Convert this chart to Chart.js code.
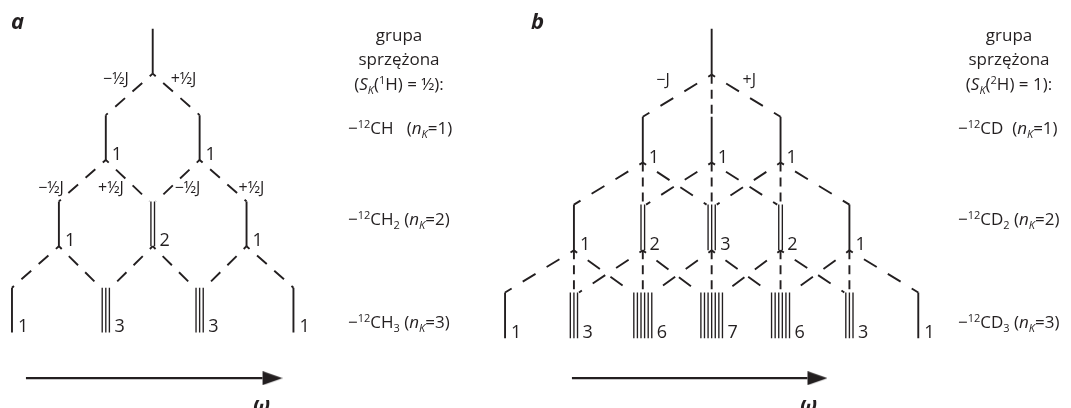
<!DOCTYPE html>
<html>
<head>
<meta charset="utf-8">
<script src="https://cdn.jsdelivr.net/npm/chart.js@4.4.1/dist/chart.umd.min.js"></script>
<style>
  html, body { margin: 0; padding: 0; background: #fff; overflow: hidden; }
  canvas { display: block; }
</style>
</head>
<body>
<canvas id="tree" width="1071" height="408"></canvas>
<script>
// ---- data -------------------------------------------------------------
// line intensities of each splitting level (level 0 = uncoupled line)
const intensitiesCH = [[1], [1, 1], [1, 2, 1], [1, 3, 3, 1]];
const intensitiesCD = [[1], [1, 1, 1], [1, 2, 3, 2, 1], [1, 3, 6, 7, 6, 3, 1]];
// shift of each spin state of one coupled nucleus, in units of J
const splitsCH = [-0.5, 0.5];
const splitsCD = [-1, 0, 1];
// texts written on the branches
const splitTextCH = ['−½J', '+½J'];
const splitTextCD = ['−J', '', '+J'];
// coupled-group captions ([text, style] parts)
const headerCH = [
  [['grupa']],
  [['sprzężona']],
  [['('], ['S', 'it'], ['K', 'itsub'], ['('], ['1', 'sup'], ['H) = ½):']]
];
const headerCD = [
  [['grupa']],
  [['sprzężona']],
  [['('], ['S', 'it'], ['K', 'itsub'], ['('], ['2', 'sup'], ['H) = 1):']]
];
const rowsCH = [
  [['−'], ['12', 'sup'], ['CH   ('], ['n', 'it'], ['K', 'itsub'], ['=1)']],
  [['−'], ['12', 'sup'], ['CH'], ['2', 'sub'], [' ('], ['n', 'it'], ['K', 'itsub'], ['=2)']],
  [['−'], ['12', 'sup'], ['CH'], ['3', 'sub'], [' ('], ['n', 'it'], ['K', 'itsub'], ['=3)']]
];
const rowsCD = [
  [['−'], ['12', 'sup'], ['CD  ('], ['n', 'it'], ['K', 'itsub'], ['=1)']],
  [['−'], ['12', 'sup'], ['CD'], ['2', 'sub'], [' ('], ['n', 'it'], ['K', 'itsub'], ['=2)']],
  [['−'], ['12', 'sup'], ['CD'], ['3', 'sub'], [' ('], ['n', 'it'], ['K', 'itsub'], ['=3)']]
];

// ---- layout -----------------------------------------------------------
const INK = '#231f20';
const FONT = '"Open Sans", "Noto Sans", sans-serif';

const panels = [
  {
    letter: 'a', letterX: 11,
    intens: intensitiesCH, splits: splitsCH, splitText: splitTextCH,
    cx: 152, J: 94, y0: 28, step: 86.7, stem: 45, gap: 3.6,
    diagDash: [13, 10], diagOffset: 9,
    // branch captions: level, node, split, dx, dy from the junction, alignment
    splitLabels: [
      { k: 0, i: 0, s: 0, dx: -24, dy: 10, align: 'right' },
      { k: 0, i: 0, s: 1, dx: 18, dy: 10, align: 'left' },
      { k: 1, i: 0, s: 0, dx: -42, dy: 33, align: 'right' },
      { k: 1, i: 0, s: 1, dx: 18, dy: 33, align: 'right' },
      { k: 1, i: 1, s: 0, dx: -25, dy: 33, align: 'left' },
      { k: 1, i: 1, s: 1, dx: 39, dy: 33, align: 'left' }
    ],
    header: headerCH, rows: rowsCH, headerX: 399, rowX: 348,
    arrow: [25, 262], omegaX: 253
  },
  {
    letter: 'b', letterX: 531,
    intens: intensitiesCD, splits: splitsCD, splitText: splitTextCD,
    cx: 712, J: 69, y0: 28, step: 88.3, stem: 46, gap: 3.6,
    diagDash: [15, 13], diagOffset: 11,
    splitLabels: [
      { k: 0, i: 0, s: 0, dx: -42, dy: 10, align: 'right' },
      { k: 0, i: 0, s: 2, dx: 31, dy: 10, align: 'left' }
    ],
    header: headerCD, rows: rowsCD, headerX: 1009, rowX: 958,
    arrow: [572, 808], omegaX: 800
  }
];
const headerY = [41, 65, 90];
const rowY = [134, 225, 328];
const arrowY = 379;

// ---- geometry helpers -------------------------------------------------
function nodeX(p, k, i) {
  const s = p.splits;
  return p.cx + p.J * (k * s[0] + i * (s[1] - s[0]));
}
const topY = (p, k) => p.y0 + k * p.step;
const botY = (p, k) => topY(p, k) + p.stem;
const halfW = (p, n) => (n - 1) * p.gap / 2;

function seg(a, b, extra) {
  return Object.assign({
    data: [a, b], showLine: true, borderColor: INK, borderWidth: 2,
    pointRadius: 0, pointHoverRadius: 0, fill: false, tension: 0,
    borderCapStyle: 'butt', clip: false
  }, extra || {});
}

const datasets = [];
const numberLabels = [];

panels.forEach(p => {
  p.intens.forEach((row, k) => {
    row.forEach((n, i) => {
      const cx = nodeX(p, k, i);
      // n parallel lines for a line of intensity n
      for (let j = 0; j < n; j++) {
        const x = cx + (j - (n - 1) / 2) * p.gap;
        datasets.push(seg({ x, y: topY(p, k) }, { x, y: botY(p, k) },
          { borderWidth: n > 1 ? 1.35 : 1.9 }));
      }
      if (k > 0) numberLabels.push({ text: String(n), x: cx + halfW(p, n) + (n > 1 ? 5 : 6), y: botY(p, k) });
      // dashed branches to the next level
      if (k < p.intens.length - 1) {
        p.splits.forEach((s, si) => {
          const ti = i + si;
          const tx = nodeX(p, k + 1, ti);
          const tn = p.intens[k + 1][ti];
          const dir = Math.sign(tx - cx);
          const ex = dir === 0 ? tx : tx - dir * (tn > 1 ? halfW(p, tn) + 1.5 : 0);
          const dash = dir === 0
            ? { borderDash: [9, 6], borderDashOffset: 0, borderWidth: 1.9 }
            : { borderDash: p.diagDash, borderDashOffset: p.diagOffset, borderWidth: 1.9 };
          datasets.push(seg({ x: cx, y: botY(p, k) }, { x: ex, y: topY(p, k + 1) }, dash));
        });
      }
    });
  });
});

// arrowhead glyph for the frequency axis
const head = document.createElement('canvas');
head.width = 40; head.height = 14;
(function () {
  const g = head.getContext('2d');
  g.fillStyle = INK;
  g.beginPath();
  g.moveTo(20, 0); g.lineTo(40, 7); g.lineTo(20, 14); g.closePath();
  g.fill();
})();
panels.forEach(p => {
  datasets.push(seg({ x: p.arrow[0], y: arrowY }, { x: p.arrow[1], y: arrowY }, {
    borderWidth: 2.4, pointRadius: [0, 1], pointStyle: head, pointBorderWidth: 0
  }));
});

// ---- text -------------------------------------------------------------
function fontFor(style, size, weight) {
  const it = style && style.indexOf('it') >= 0 ? 'italic ' : '';
  const small = style && (style.indexOf('sub') >= 0 || style.indexOf('sup') >= 0);
  return `${it}${weight || ''} ${small ? Math.round(size * 0.62) : size}px ${FONT}`;
}
function drawRich(ctx, parts, x, y, size, align) {
  let w = 0;
  parts.forEach(([t, st]) => { ctx.font = fontFor(st, size); w += ctx.measureText(t).width; });
  let cx = align === 'center' ? x - w / 2 : align === 'right' ? x - w : x;
  parts.forEach(([t, st]) => {
    ctx.font = fontFor(st, size);
    let dy = 0;
    if (st && st.indexOf('sup') >= 0) dy = -size * 0.38;
    if (st && st.indexOf('sub') >= 0) dy = size * 0.22;
    ctx.fillText(t, cx, y + dy);
    cx += ctx.measureText(t).width;
  });
}

const textPlugin = {
  id: 'treeText',
  afterDatasetsDraw(chart) {
    const ctx = chart.ctx;
    const xs = chart.scales.x, ys = chart.scales.y;
    const px = v => xs.getPixelForValue(v), py = v => ys.getPixelForValue(v);
    ctx.save();
    ctx.fillStyle = INK;
    ctx.textBaseline = 'alphabetic';
    ctx.textAlign = 'left';

    numberLabels.forEach(l => {
      ctx.font = `18px ${FONT}`;
      ctx.fillText(l.text, px(l.x), py(l.y));
    });

    panels.forEach(p => {
      // panel letter
      ctx.font = `italic bold 22px ${FONT}`;
      ctx.textAlign = 'left';
      ctx.fillText(p.letter, p.letterX, 29);

      // branch captions
      ctx.font = `16px ${FONT}`;
      p.splitLabels.forEach(l => {
        ctx.textAlign = l.align;
        const jx = nodeX(p, l.k, l.i);
        ctx.fillText(p.splitText[l.s], px(jx + l.dx), py(botY(p, l.k) + l.dy));
      });
      ctx.textAlign = 'left';

      // coupled-group captions
      p.header.forEach((parts, r) => drawRich(ctx, parts, p.headerX, headerY[r], 17, 'center'));
      p.rows.forEach((parts, r) => drawRich(ctx, parts, p.rowX, rowY[r], 17, 'left'));

      // frequency axis symbol
      ctx.font = `italic bold 21px ${FONT}`;
      ctx.fillText('ω', p.omegaX, 412);
    });
    ctx.restore();
  }
};

new Chart(document.getElementById('tree'), {
  type: 'scatter',
  data: { datasets },
  options: {
    responsive: false,
    animation: false,
    devicePixelRatio: 1,
    events: [],
    layout: { padding: 0 },
    plugins: { legend: { display: false }, tooltip: { enabled: false } },
    scales: {
      x: { type: 'linear', min: 0, max: 1071, display: false },
      y: { type: 'linear', min: 0, max: 408, reverse: true, display: false }
    }
  },
  plugins: [textPlugin]
});
</script>
</body>
</html>
